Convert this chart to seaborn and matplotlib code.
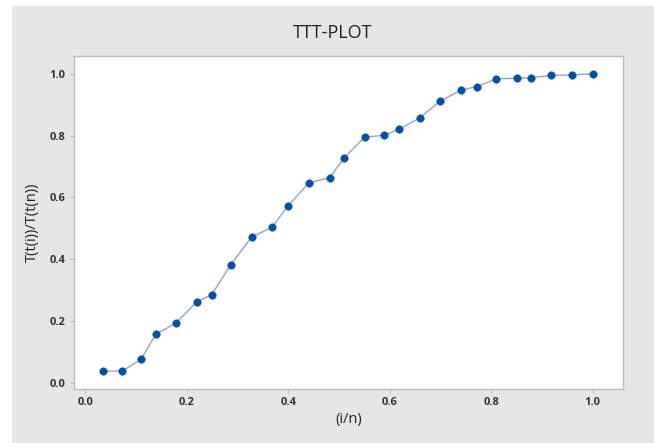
import pandas as pd
import matplotlib
matplotlib.use("Agg")
import matplotlib.pyplot as plt
import seaborn as sns
from matplotlib.patches import Rectangle

# valori (TTT plot)
i_over_n = [0.036, 0.073, 0.110, 0.139, 0.180, 0.220, 0.249, 0.287, 0.328,
            0.369, 0.399, 0.441, 0.482, 0.511, 0.551, 0.589, 0.618, 0.659,
            0.699, 0.740, 0.772, 0.810, 0.851, 0.879, 0.919, 0.959, 1.000]
ttt = [0.037, 0.037, 0.075, 0.156, 0.194, 0.262, 0.284, 0.382, 0.471,
       0.504, 0.571, 0.647, 0.664, 0.729, 0.795, 0.801, 0.820, 0.857,
       0.911, 0.947, 0.959, 0.984, 0.986, 0.988, 0.995, 0.997, 1.000]
x_ticks = [0.0, 0.2, 0.4, 0.6, 0.8, 1.0]
y_ticks = [0.0, 0.2, 0.4, 0.6, 0.8, 1.0]

df = pd.DataFrame({"x": i_over_n, "y": ttt})

sns.set_style("white")
plt.rcParams["font.family"] = ["Open Sans", "DejaVu Sans"]

fig = plt.figure(figsize=(6.54, 4.43), dpi=100, facecolor="white")
# sfondo grigio stile Minitab
fig.add_artist(Rectangle((12 / 654, 0), 1 - 12 / 654, 1 - 6 / 443,
                         transform=fig.transFigure, facecolor="#e6e6e6",
                         edgecolor="none", zorder=-10))
ax = fig.add_axes([74 / 654, 1 - 389 / 443, (623 - 74) / 654, (389 - 56) / 443])
ax.set_facecolor("white")

sns.lineplot(data=df, x="x", y="y", ax=ax, color="#8aa6cf", linewidth=1.0,
             zorder=2)
sns.scatterplot(data=df, x="x", y="y", ax=ax, color="#0a4f9e", s=30,
                edgecolor="#0a4f9e", linewidth=0.3, zorder=3)

ax.set_xlim(-0.022, 1.060)
ax.set_ylim(-0.021, 1.058)
ax.set_xticks(x_ticks)
ax.set_yticks(y_ticks)
ax.set_xticklabels([f"{v:.1f}" for v in x_ticks], fontsize=8,
                   fontweight="bold", color="#333333")
ax.set_yticklabels([f"{v:.1f}" for v in y_ticks], fontsize=8,
                   fontweight="bold", color="#333333")
ax.tick_params(axis="both", direction="out", length=3, width=0.8,
               color="#bbbbbb", pad=3, bottom=True, left=True)
for s in ax.spines.values():
    s.set_color("#bdbdbd")
    s.set_linewidth(1.0)

ax.set_xlabel("(i/n)", fontsize=10.5, color="#222222", labelpad=3)
ax.set_ylabel("T(t(i))/T(t(n))", fontsize=10.5, color="#222222", labelpad=7)
fig.text(333 / 654, 1 - 33 / 443, "TTT-PLOT", ha="center", va="center",
         fontsize=13, color="#222222")

fig.savefig("out.png", dpi=100, facecolor=fig.get_facecolor())
